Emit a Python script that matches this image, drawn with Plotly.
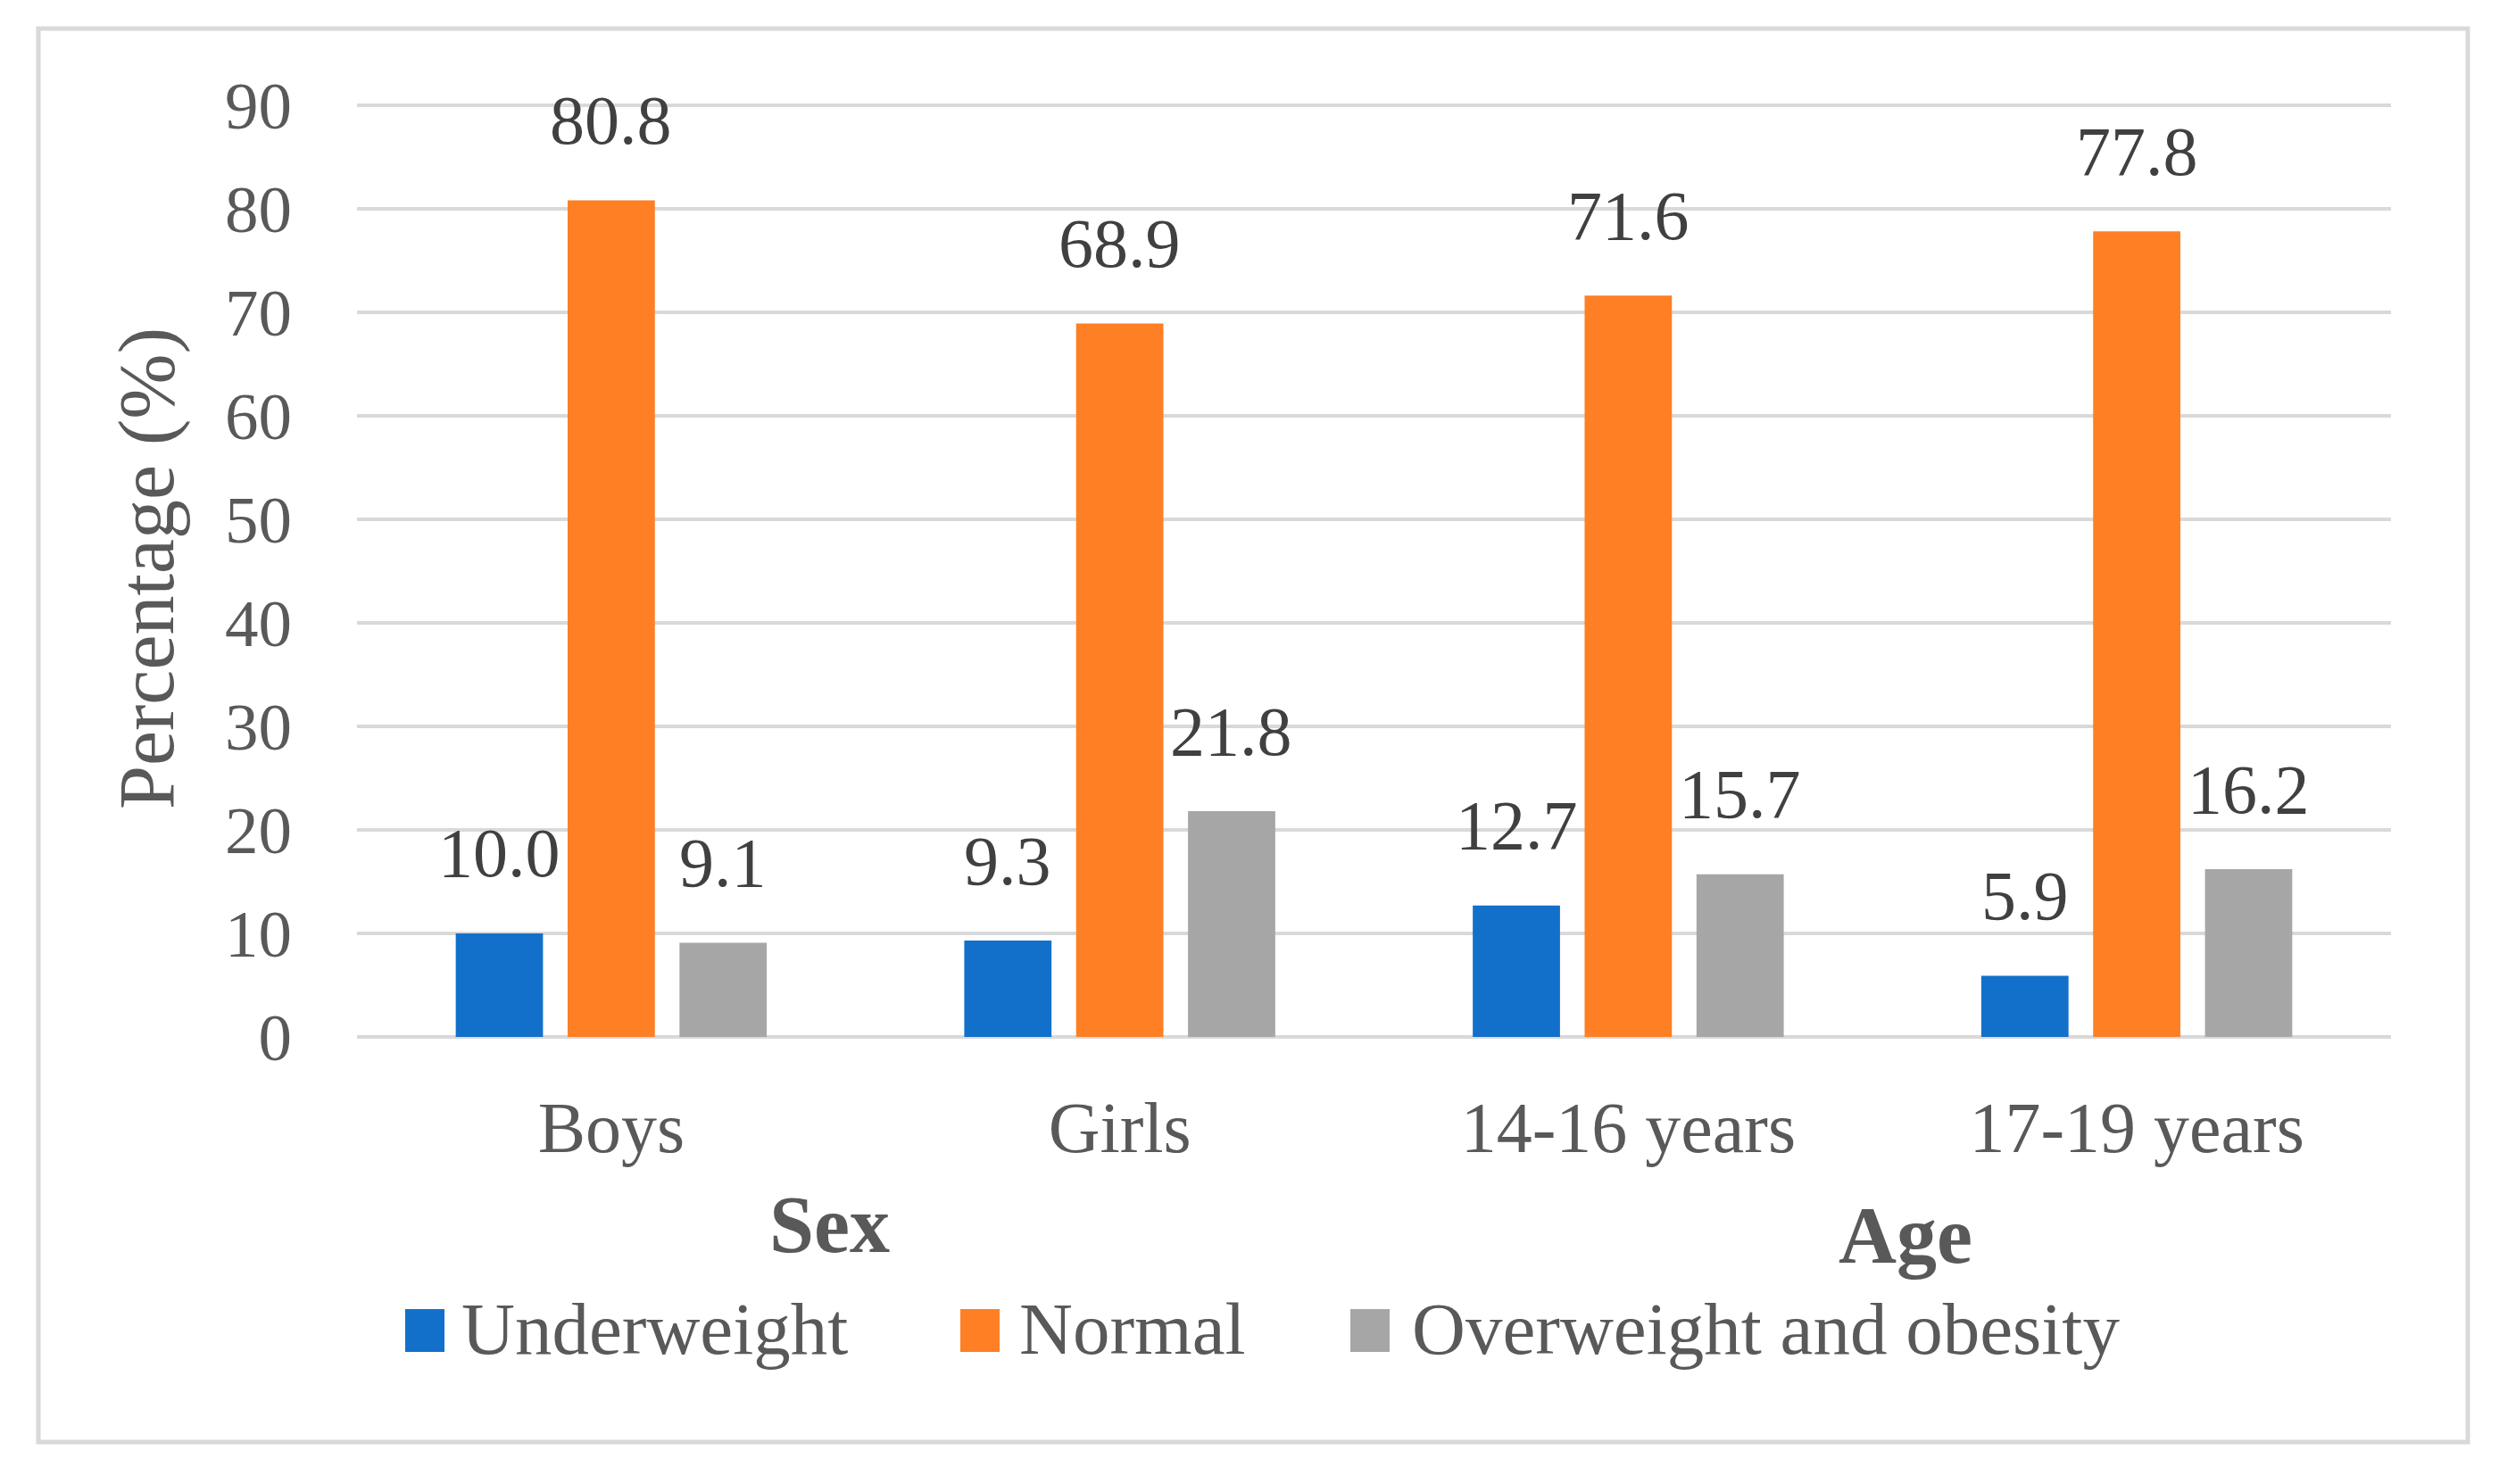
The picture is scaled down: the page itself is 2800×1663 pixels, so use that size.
import plotly.graph_objects as go

# ---------------- data ----------------
categories = ["Boys", "Girls", "14-16 years", "17-19 years"]
series_names = ["Underweight", "Normal", "Overweight and obesity"]
underweight = [10.0, 9.3, 12.7, 5.9]
normal = [80.8, 68.9, 71.6, 77.8]
overweight = [9.1, 21.8, 15.7, 16.2]
y_ticks = [0, 10, 20, 30, 40, 50, 60, 70, 80, 90]
group_titles = ["Sex", "Age"]
colors = ["#1270CA", "#FE7F24", "#A6A6A6"]

series_values = [underweight, normal, overweight]

W, H = 2800, 1663
L, R, T, B = 400, 121, 112, 501
PW, PH = W - L - R, H - T - B


def px_x(px):
    return (px - L) / PW


def px_y(py):
    return (H - B - py) / PH


FONT = "Liberation Serif"
TXT = "#595959"

fig = go.Figure()
for name, vals, col in zip(series_names, series_values, colors):
    fig.add_trace(go.Bar(
        name=name, x=categories, y=vals,
        marker=dict(color=col, line=dict(width=0)),
        hoverinfo="x+y+name",
    ))

bargap, bargroupgap = 0.34, 0.22
nser = len(series_names)
slot = (1 - bargap) / nser
annotations = []
for si, vals in enumerate(series_values):
    off = -(1 - bargap) / 2 + slot * (si + 0.5)
    for ci, v in enumerate(vals):
        annotations.append(dict(
            x=ci + off, y=v, xref="x", yref="y",
            text=f"{v:.1f}", showarrow=False,
            yanchor="middle", xanchor="center", yshift=90,
            font=dict(family=FONT, size=78, color="#404040"),
        ))

# group titles
for txt, cx, cy in zip(group_titles, [929, 2135], [1372, 1384]):
    annotations.append(dict(
        x=px_x(cx), y=px_y(cy), xref="paper", yref="paper",
        text=f"<b>{txt}</b>", showarrow=False,
        xanchor="center", yanchor="middle",
        font=dict(family=FONT, size=90, color=TXT),
    ))

# custom legend
shapes = []
sw_left = [454, 1076, 1513]
txt_left = [515, 1140, 1580]
for name, col, sl, tl in zip(series_names, colors, sw_left, txt_left):
    shapes.append(dict(
        type="rect", xref="paper", yref="paper",
        x0=px_x(sl), x1=px_x(sl + 44), y0=px_y(1515), y1=px_y(1467),
        fillcolor=col, line=dict(width=0),
    ))
    annotations.append(dict(
        x=px_x(tl), y=px_y(1489), xref="paper", yref="paper",
        text=name, showarrow=False, xanchor="left", yanchor="middle",
        font=dict(family=FONT, size=83, color=TXT),
    ))

# outer border
shapes.append(dict(
    type="rect", xref="paper", yref="paper",
    x0=px_x(43), x1=px_x(2765), y0=px_y(1616), y1=px_y(32),
    line=dict(color="#D9D9D9", width=5), fillcolor="rgba(0,0,0,0)",
    layer="below",
))

fig.update_layout(
    width=W, height=H,
    margin=dict(l=L, r=R, t=T, b=B, autoexpand=False),
    paper_bgcolor="white", plot_bgcolor="white",
    barmode="group", bargap=bargap, bargroupgap=bargroupgap,
    showlegend=False,
    font=dict(family=FONT, color=TXT),
    xaxis=dict(
        showgrid=False, showline=False, zeroline=False, ticks="",
        tickfont=dict(family=FONT, size=80, color=TXT),
        ticklabelstandoff=48,
    ),
    yaxis=dict(
        range=[0, 90.5], tickvals=y_ticks, showgrid=True,
        gridcolor="#D9D9D9", gridwidth=4, zeroline=True,
        zerolinecolor="#D9D9D9", zerolinewidth=4,
        showline=False, ticks="",
        tickfont=dict(family=FONT, size=75, color=TXT),
        ticklabelstandoff=72,
        title=dict(text="Percentage (%)", standoff=28,
                   font=dict(family=FONT, size=88, color=TXT)),
        automargin=False,
    ),
    annotations=annotations,
    shapes=shapes,
)

fig.write_html("out.html", config={"displayModeBar": False},
               post_script="document.body.style.margin='0';")
